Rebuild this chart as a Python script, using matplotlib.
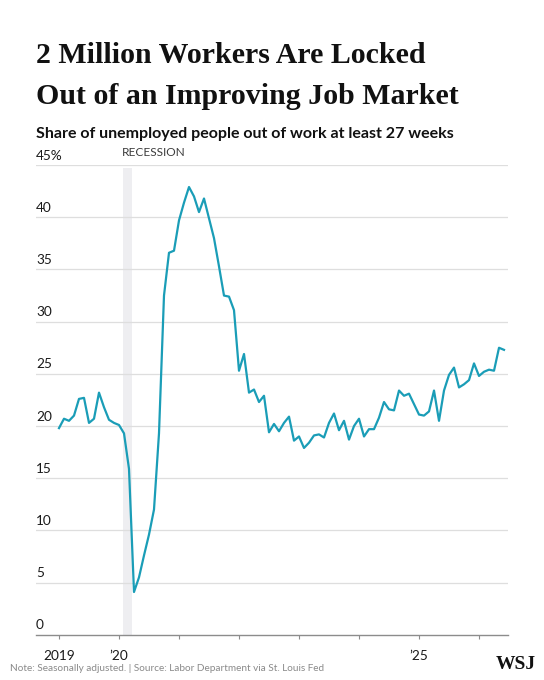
import matplotlib

matplotlib.use("Agg")
import matplotlib.pyplot as plt
import numpy as np

# Share of unemployed out of work 27+ weeks, monthly, Jan 2019 onward
share_2019 = [19.8, 20.7, 20.5, 21.0, 22.6, 22.7, 20.3, 20.7, 23.2, 21.8, 20.6, 20.3]
share_2020 = [20.1, 19.3, 15.9, 4.1, 5.5, 7.6, 9.6, 12.0, 19.3, 32.5, 36.6, 36.8]
share_2021 = [39.7, 41.4, 42.9, 42.0, 40.5, 41.8, 39.9, 38.0, 35.3, 32.5, 32.4, 31.1]
share_2022 = [25.3, 26.9, 23.2, 23.5, 22.3, 22.9, 19.4, 20.2, 19.5, 20.3, 20.9, 18.6]
share_2023 = [19.0, 17.9, 18.4, 19.1, 19.2, 18.9, 20.3, 21.2, 19.6, 20.5, 18.7, 20.0]
share_2024 = [20.7, 19.0, 19.7, 19.7, 20.8, 22.3, 21.6, 21.5, 23.4, 22.9, 23.1, 22.1]
share_2025 = [21.1, 21.0, 21.4, 23.4, 20.5, 23.4, 24.9, 25.6, 23.7, 24.0, 24.4, 26.0]
share_2026 = [24.8, 25.2, 25.4, 25.3, 27.5, 27.3]
share = (share_2019 + share_2020 + share_2021 + share_2022 + share_2023
         + share_2024 + share_2025 + share_2026)
start_year = 2019

recession = (2020.07, 2020.22)

year_ticks = [2019, 2020, 2021, 2022, 2023, 2024, 2025, 2026]
year_labels = ["2019", "\u201920", "", "", "", "", "\u201925", ""]
y_ticks = [0, 5, 10, 15, 20, 25, 30, 35, 40, 45]
y_labels = ["0", "5", "10", "15", "20", "25", "30", "35", "40", "45%"]

LINE = "#1a9db7"
INK = "#1a1a1a"
GRID = "#dedede"
AXIS = "#8c8c8c"
SHADE = "#eeeef1"
SANS = ["Lato", "DejaVu Sans"]
SERIF = ["Liberation Serif", "DejaVu Serif"]

t = start_year + np.arange(len(share)) / 12.0

fig = plt.figure(figsize=(5.44, 6.8), dpi=100)
ax = fig.add_axes([0.0662, 0.0665, 0.8676, 0.6907])
ax.set_xlim(2018.617, 2026.483)
ax.set_ylim(0, 45)

for v in y_ticks[1:]:
    ax.axhline(v, color=GRID, linewidth=0.9, zorder=1)
ax.axvspan(*recession, ymax=0.993, color=SHADE, linewidth=0, zorder=0)
ax.text(recession[0] - 0.03, 45.7, "RECESSION", fontsize=8.6, color="#3c3c3c",
        family=SANS, ha="left", va="bottom")

ax.plot(t, share, color=LINE, linewidth=1.6, zorder=3, solid_joinstyle="round")

for s in ("top", "right", "left"):
    ax.spines[s].set_visible(False)
ax.spines["bottom"].set_color(AXIS)
ax.spines["bottom"].set_linewidth(1.0)

ax.set_yticks(y_ticks, y_labels)
ax.tick_params(axis="y", length=0, pad=0, labelsize=9.8, labelcolor=INK)
for tk in ax.yaxis.get_major_ticks():
    tk.label1.set_horizontalalignment("left")
    tk.label1.set_verticalalignment("bottom")
    tk.label1.set_family(SANS)
# labels sit inside the plot, just above their gridline
for lab in ax.get_yticklabels():
    lab.set_transform(ax.get_yaxis_transform() + matplotlib.transforms.ScaledTranslation(
        0, 2.5 / 72, fig.dpi_scale_trans))

ax.set_xticks(year_ticks, year_labels)
ax.tick_params(axis="x", length=3, width=0.8, color=AXIS, pad=8, labelsize=9.8,
               labelcolor=INK)
for lab in ax.get_xticklabels():
    lab.set_family(SANS)

fig.text(0.066, 0.907, "2 Million Workers Are Locked", family=SERIF,
         fontweight="bold", fontsize=21.5, color="#111111", va="baseline", ha="left")
fig.text(0.066, 0.847, "Out of an Improving Job Market", family=SERIF,
         fontweight="bold", fontsize=21.5, color="#111111", va="baseline", ha="left")
fig.text(0.066, 0.797, "Share of unemployed people out of work at least 27 weeks",
         family=SANS, fontweight="bold", fontsize=11.5, color="#111111", va="baseline", ha="left")

fig.text(0.018, 0.013, "Note: Seasonally adjusted. | Source: Labor Department via St. Louis Fed",
         family=["Liberation Sans Narrow", "Lato"], fontsize=7.2, color="#8a8a8a",
         va="baseline", ha="left")
fig.text(0.985, 0.016, "WSJ", family=SERIF, fontweight="bold",
         fontsize=14, color="#111111", va="baseline", ha="right")

fig.savefig("out.png", dpi=100, facecolor="white")
